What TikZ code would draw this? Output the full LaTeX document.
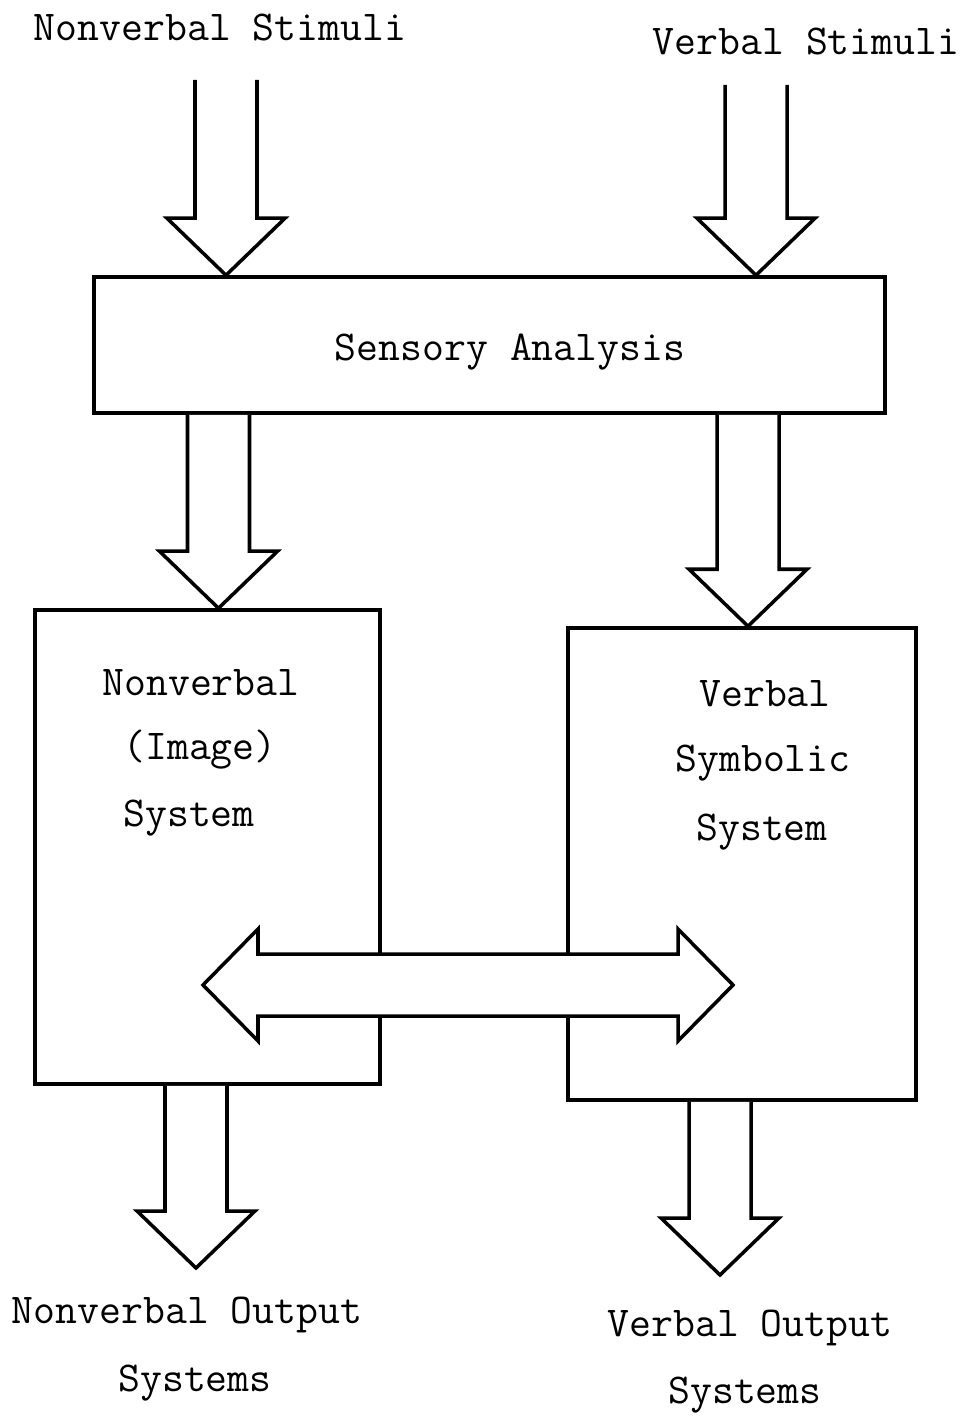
\documentclass[tikz,border=0pt]{standalone}
\usepackage{fontspec}
\usetikzlibrary{calc}

\tikzset{
  lbl/.style={draw=none, inner sep=0pt, font=\ttfamily\fontsize{24.2}{27}\selectfont},
  boxframe/.style={draw, line width=2pt, inner sep=0pt},
  blockarrow/.style={line width=2pt, fill=white}
}

% downward block arrow: #1 open tail, #2 tip
\newcommand{\blockdown}[2]{%
  \draw[blockarrow] ($(#1)+(-3.1,0)$) -- ($(#2)+(-3.1,-5.7)$) -- ($(#2)+(-5.9,-5.7)$)
    -- (#2) -- ($(#2)+(5.9,-5.7)$) -- ($(#2)+(3.1,-5.7)$) -- ($(#1)+(3.1,0)$);}

\begin{document}
\begin{tikzpicture}[x=0.2cm, y=-0.2cm]
  \useasboundingbox (0,0) rectangle (96.7,141.8);

  \node[lbl] (nvstim) at (22.0, 2.8) {Nonverbal Stimuli};
  \node[lbl] (vstim) at (80.6, 4.2) {Verbal Stimuli};

  % boxes
  \node[boxframe, minimum width=15.82cm, minimum height=2.72cm] (sensory) at (48.95, 34.5) {};
  \node[lbl] (sensorytext) at (51.0, 35.2) {Sensory Analysis};

  \node[boxframe, minimum width=6.9cm, minimum height=9.48cm] (nvsys) at (20.75, 84.7) {};
  \node[lbl] (nv1) at (20.1, 68.3) {Nonverbal};
  \node[lbl] (nv2) at (20.0, 75.0) {(Image)};
  \node[lbl] (nv3) at (18.9, 81.8) {System};

  \node[boxframe, minimum width=6.96cm, minimum height=9.44cm] (vsys) at (74.2, 86.4) {};
  \node[lbl] (v1) at (76.5, 69.4) {Verbal};
  \node[lbl] (v2) at (76.3, 76.3) {Symbolic};
  \node[lbl] (v3) at (76.2, 83.2) {System};

  % stimuli into sensory analysis
  \coordinate (nvin) at (22.6, 8.0);
  \coordinate (vin) at (75.6, 8.5);
  \coordinate (nvintip) at (nvin |- sensory.north);
  \coordinate (vintip) at (vin |- sensory.north);
  \blockdown{nvin}{nvintip}
  \blockdown{vin}{vintip}

  % sensory analysis into the two systems
  \coordinate (nvmid) at (21.85, 0 |- sensory.south);
  \coordinate (vmid) at (74.8, 0 |- sensory.south);
  \coordinate (nvmidtip) at (nvmid |- nvsys.north);
  \coordinate (vmidtip) at (vmid |- vsys.north);
  \blockdown{nvmid}{nvmidtip}
  \blockdown{vmid}{vmidtip}

  % outputs
  \coordinate (nvout) at (19.6, 0 |- nvsys.south);
  \coordinate (vout) at (72.0, 0 |- vsys.south);
  \coordinate (nvouttip) at (19.6, 126.8);
  \coordinate (vouttip) at (72.0, 127.5);
  \blockdown{nvout}{nvouttip}
  \blockdown{vout}{vouttip}

  \node[lbl] (nvo1) at (18.7, 131.5) {Nonverbal Output};
  \node[lbl] (nvo2) at (19.5, 138.3) {Systems};
  \node[lbl] (vo1) at (75.0, 132.8) {Verbal Output};
  \node[lbl] (vo2) at (74.5, 139.5) {Systems};

  % two-way link between the systems
  \coordinate (linkl) at (20.3, 98.5);
  \coordinate (linkr) at (73.3, 98.5);
  \draw[blockarrow] (linkl) -- ($(linkl)+(5.5,-5.6)$) -- ($(linkl)+(5.5,-3.1)$)
    -- ($(linkr)+(-5.5,-3.1)$) -- ($(linkr)+(-5.5,-5.6)$) -- (linkr)
    -- ($(linkr)+(-5.5,5.6)$) -- ($(linkr)+(-5.5,3.1)$)
    -- ($(linkl)+(5.5,3.1)$) -- ($(linkl)+(5.5,5.6)$) -- cycle;
\end{tikzpicture}
\end{document}
